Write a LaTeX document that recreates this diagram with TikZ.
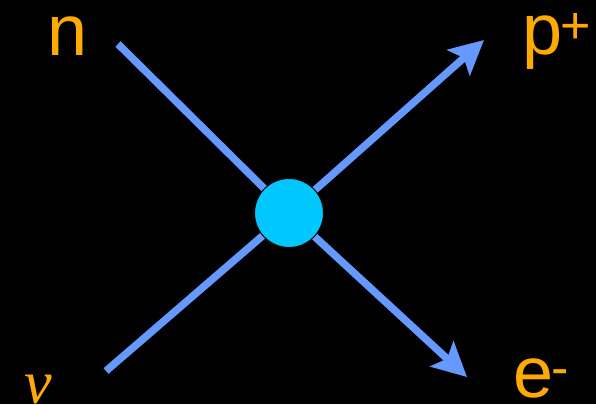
\documentclass[tikz,border=0pt]{standalone}
\usepackage{fontspec}
\setmainfont{Liberation Sans}
\newfontfamily\greekfont{Liberation Serif}
\usetikzlibrary{arrows.meta}
\definecolor{linecol}{RGB}{102,153,255}
\definecolor{vertcol}{RGB}{0,200,255}
\definecolor{labcol}{RGB}{255,170,0}
\begin{document}
\begin{tikzpicture}[x=1pt,y=-1pt,
  prop/.style={draw=linecol,line width=7.5pt},
  arr/.style={prop,-{Stealth[length=34pt,width=34pt,inset=7pt]}},
  lab/.style={text=labcol,inner sep=0pt,anchor=base west,font=\fontsize{72}{80}\selectfont},
  supsc/.style={text=labcol,inner sep=0pt,anchor=base west,font=\fontsize{52}{56}\selectfont}]
\fill[black] (0,0) rectangle (596,404);
\useasboundingbox (0,0) rectangle (596,404);
\coordinate (nstart) at (118,44);
\coordinate (nustart) at (106,371);
\coordinate (ptip) at (484,40);
\coordinate (etip) at (467,377);
\node[circle,minimum size=69pt,inner sep=0pt] (V) at (289,213) {};
\draw[prop] (nstart) -- (V.center);
\draw[prop] (nustart) -- (V.center);
\draw[arr] (V.center) -- (ptip);
\draw[arr] (V.center) -- (etip);
\node[circle,minimum size=69pt,inner sep=0pt,fill=vertcol,draw=black,line width=1pt] at (V) {};
\node[lab] (nlab) at (47,56) {n};
\node[lab] (plab) at (522,55) {p};
\node[supsc] (plus) at (560,44) {+};
\node[lab] (elab) at (513,397) {e};
\node[supsc] (minus) at (551,385) {-};
\node[text=labcol,inner sep=0pt,anchor=base west,font=\greekfont\itshape\fontsize{62}{70}\selectfont] (nulab) at (24,403) {ν};
\end{tikzpicture}
\end{document}
